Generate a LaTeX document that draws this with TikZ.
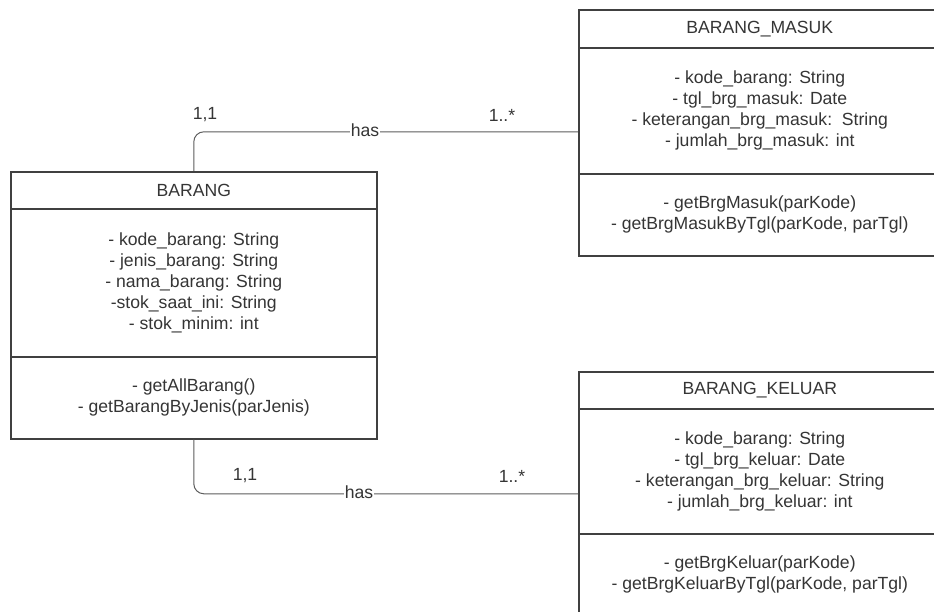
\documentclass[tikz,border=0pt]{standalone}
\usepackage{fontspec}
\setmainfont{Liberation Sans}

\definecolor{umlline}{HTML}{404040}
\definecolor{umltext}{HTML}{353535}

\tikzset{
	classpart/.style={draw=umlline, line width=1.6pt, anchor=north west, align=center,
		text=umltext, inner sep=0pt, font=\fontsize{17.6}{21}\selectfont},
	assoc/.style={draw=umlline!85!white, line width=1pt, rounded corners=10pt},
	tag/.style={text=umltext, inner sep=1pt, font=\fontsize{17.6}{21}\selectfont}
}

\begin{document}
\begin{tikzpicture}[x=1pt, y=-1pt]

			\useasboundingbox (0,0) rectangle (934,612);
			\clip (0,0) rectangle (934,612);
			\fill[white] (0,0) rectangle (934,612);

			\node[classpart, minimum width=366pt, minimum height=37pt] (barangHead) at (10,171) {BARANG};
			\node[classpart, minimum width=366pt, minimum height=148pt] (barangAttr) at (10,208)
				{- kode\_barang: String\\- jenis\_barang: String\\- nama\_barang: String\\-stok\_saat\_ini: String\\- stok\_minim: int};
			\node[classpart, minimum width=366pt, minimum height=82pt] (barangOps) at (10,356)
				{- getAllBarang()\\- getBarangByJenis(parJenis)};

			\node[classpart, minimum width=362pt, minimum height=38pt] (masukHead) at (578,9) {BARANG\_MASUK};
			\node[classpart, minimum width=362pt, minimum height=126pt] (masukAttr) at (578,47)
				{- kode\_barang: String\\- tgl\_brg\_masuk: Date\\- keterangan\_brg\_masuk:\ \ String\\- jumlah\_brg\_masuk: int};
			\node[classpart, minimum width=362pt, minimum height=82pt] (masukOps) at (578,173)
				{- getBrgMasuk(parKode)\\- getBrgMasukByTgl(parKode, parTgl)};

			\node[classpart, minimum width=362pt, minimum height=37pt] (keluarHead) at (578,371) {BARANG\_KELUAR};
			\node[classpart, minimum width=362pt, minimum height=125pt] (keluarAttr) at (578,408)
				{- kode\_barang: String\\- tgl\_brg\_keluar: Date\\- keterangan\_brg\_keluar: String\\- jumlah\_brg\_keluar: int};
			\node[classpart, minimum width=362pt, minimum height=82pt] (keluarOps) at (578,533)
				{- getBrgKeluar(parKode)\\- getBrgKeluarByTgl(parKode, parTgl)};

			\draw[assoc] (barangHead.north) |- ([yshift=-21pt]masukAttr.west);
			\draw[assoc] (barangOps.south) |- ([yshift=-22.5pt]keluarAttr.west);

			\node[tag, fill=white] (hasMasuk) at (365,130) {has};
			\node[tag, fill=white] (hasKeluar) at (359,492) {has};

			\node[tag] (oneMasuk) at (205,115) {1,1};
			\node[tag] (manyMasuk) at (502,115) {1..*};
			\node[tag] (oneKeluar) at (245,476) {1,1};
			\node[tag] (manyKeluar) at (512,476) {1..*};

	\end{tikzpicture}
\end{document}
